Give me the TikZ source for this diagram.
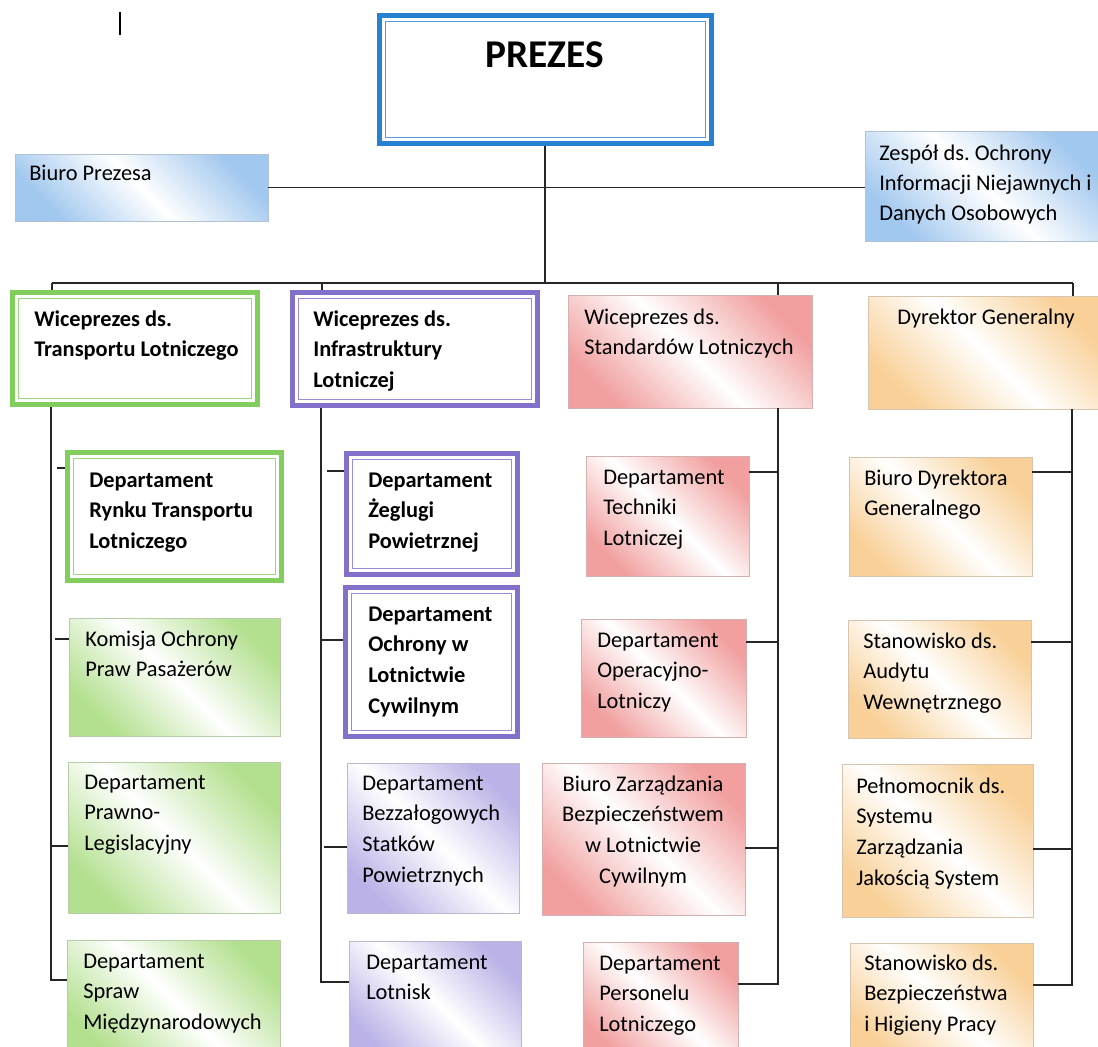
\documentclass[tikz,border=0pt]{standalone}
\usepackage{fontspec}
\setmainfont{Carlito}
\frenchspacing
\usetikzlibrary{fit,calc}
\definecolor{pblue}{RGB}{38,130,208}
\definecolor{gblue}{RGB}{125,178,232}
\definecolor{pgreen}{RGB}{130,206,92}
\definecolor{ggreen}{RGB}{150,212,100}
\definecolor{ppurple}{RGB}{130,112,202}
\definecolor{gpurple}{RGB}{160,150,222}
\definecolor{gred}{RGB}{236,122,122}
\definecolor{gorange}{RGB}{246,190,112}
\tikzset{
  thickbox/.style={draw=#1, line width=3.75pt, fill=white, inner sep=0pt,
    path picture={\draw[#1!80, line width=0.75pt] ([shift={(6,6)}]path picture bounding box.north west) rectangle ([shift={(-6,-6)}]path picture bounding box.south east);}},
  gradbox/.style={draw=#1!50!gray!60, line width=0.5pt, top color=#1!72, bottom color=#1!72, middle color=white, shading angle=-45, inner sep=0pt},
  txt/.style={font=\fontsize{16.8}{23}\selectfont, align=left, inner sep=0pt, anchor=base west},
  btxt/.style={txt, font=\fontsize{16.8}{23}\selectfont\bfseries},
  nl/.style={yshift=-(#1-1)*23pt},
  conn/.style={draw=black!85, line width=1.1pt},
}
\begin{document}
\begin{tikzpicture}[x=0.75pt,y=-0.75pt]
\useasboundingbox (0,0) rectangle (1098,1046);
\fill[white] (0,0) rectangle (1098,1046);
\clip (0,0) rectangle (1098,1046);

% stray mark
\coordinate (m1) at (120,12); \coordinate (m2) at (120,35);
\draw[line width=1.5pt] (m1) -- (m2);

% top level
\node[thickbox=pblue, fit={(379,15) (711,143)}] (prezes) {};
\node[font=\fontsize{29.5}{32}\selectfont\bfseries, anchor=base, inner sep=0pt] (prezesT) at (545,67) {PREZES};

\node[gradbox=gblue, fit={(15,154) (268,221)}] (biuro) {};
\node[txt] (biuroT) at (29,180) {Biuro Prezesa};

\node[gradbox=gblue, fit={(865,131) (1102,241)}] (zespol) {};
\node[txt, font=\fontsize{16.8}{22.5}\selectfont, yshift=-45pt] (zespolT) at (879,160) {Zespół ds. Ochrony\\Informacji Niejawnych i\\Danych Osobowych};

% row 1
\node[thickbox=pgreen, fit={(12.5,292.5) (257.5,404.5)}] (wtl) {};
\node[btxt, nl=2] (wtlT) at (34,326) {Wiceprezes ds.\\Transportu Lotniczego};
\node[thickbox=ppurple, fit={(292.5,292.5) (537.5,405.5)}] (wil) {};
\node[btxt, nl=3] (wilT) at (313,326) {Wiceprezes ds.\\Infrastruktury\\Lotniczej};
\node[gradbox=gred, fit={(568,295) (812,408)}] (wsl) {};
\node[txt, nl=2] (wslT) at (584,324) {Wiceprezes ds.\\Standardów Lotniczych};
\node[gradbox=gorange, fit={(868,296) (1102,409)}] (dg) {};
\node[txt] (dgT) at (897,324) {Dyrektor Generalny};

% green column
\node[thickbox=pgreen, fit={(67.5,452.5) (281.5,580.5)}] (rynek) {};
\node[btxt, nl=3] (rynekT) at (89,487) {Departament\\Rynku Transportu\\Lotniczego};
\node[gradbox=ggreen, fit={(69,618) (280,736)}] (komisja) {};
\node[txt, nl=2] (komisjaT) at (85,646) {Komisja Ochrony\\Praw Pasażerów};
\node[gradbox=ggreen, fit={(68,762) (280,913)}] (prawno) {};
\node[txt, nl=3] (prawnoT) at (84,789) {Departament\\Prawno-\\Legislacyjny};
\node[gradbox=ggreen, fit={(67,940) (280,1060)}] (spraw) {};
\node[txt, nl=3] (sprawT) at (83,968) {Departament\\Spraw\\Międzynarodowych};

% purple column
\node[thickbox=ppurple, fit={(346.5,453.5) (517.5,574.5)}] (zegluga) {};
\node[btxt, nl=3] (zeglugaT) at (368,487) {Departament\\Żeglugi\\Powietrznej};
\node[thickbox=ppurple, fit={(345.5,587.5) (517.5,736.5)}] (ochrona) {};
\node[btxt, nl=4] (ochronaT) at (368,621) {Departament\\Ochrony w\\Lotnictwie\\Cywilnym};
\node[gradbox=gpurple, fit={(347,763) (519,913)}] (bezzal) {};
\node[txt, nl=4] (bezzalT) at (362,790) {Departament\\Bezzałogowych\\Statków\\Powietrznych};
\node[gradbox=gpurple, fit={(349,941) (521,1060)}] (lotnisk) {};
\node[txt, nl=2] (lotniskT) at (366,969) {Departament\\Lotnisk};

% red column
\node[gradbox=gred, fit={(586,456) (749,576)}] (techniki) {};
\node[txt, nl=3] (technikiT) at (603,484) {Departament\\Techniki\\Lotniczej};
\node[gradbox=gred, fit={(581,619) (746,737)}] (operac) {};
\node[txt, nl=3] (operacT) at (597,647) {Departament\\Operacyjno-\\Lotniczy};
\node[gradbox=gred, fit={(542,763) (745,915)}] (bzb) {};
\node[txt, align=center, anchor=base, nl=4] (bzbT) at (643,791) {Biuro Zarządzania\\Bezpieczeństwem\\w Lotnictwie\\Cywilnym};
\node[gradbox=gred, fit={(583,942) (738,1060)}] (personel) {};
\node[txt, nl=3] (personelT) at (599,970) {Departament\\Personelu\\Lotniczego};

% orange column
\node[gradbox=gorange, fit={(849,457) (1032,576)}] (bdg) {};
\node[txt, nl=2] (bdgT) at (864,485) {Biuro Dyrektora\\Generalnego};
\node[gradbox=gorange, fit={(848,620) (1031,738)}] (audyt) {};
\node[txt, nl=3] (audytT) at (863,648) {Stanowisko ds.\\Audytu\\Wewnętrznego};
\node[gradbox=gorange, fit={(842,764) (1033,917)}] (pelnom) {};
\node[txt, nl=4] (pelnomT) at (856,793) {Pełnomocnik ds.\\Systemu\\Zarządzania\\Jakością System};
\node[gradbox=gorange, fit={(850,943) (1033,1060)}] (bhp) {};
\node[txt, nl=3] (bhpT) at (864,970) {Stanowisko ds.\\Bezpieczeństwa\\i Higieny Pracy};

% connectors top
\draw[conn] (biuro.east) -- (biuro.east -| zespol.west);
\coordinate (bus) at (545,283);
\coordinate (busL) at (52,283);
\coordinate (busR) at (1073,283);
\coordinate (d2) at (322,283);
\coordinate (d3) at (778,283);
\draw[conn] (prezes.south) -- (bus);
\draw[conn] (busL) -- (busR);
\draw[conn] (busL) -- (busL |- wtl.north);
\draw[conn] (d2) -- (d2 |- wil.north);
\draw[conn] (d3) -- (d3 |- wsl.north);
\draw[conn] (busR) -- (busR |- dg.north);

% green
\coordinate (gEnd) at (51,980);
\draw[conn] (gEnd |- wtl.south) -- (gEnd) -- (gEnd -| spraw.west);
\coordinate (gP) at (51,846);
\draw[conn] (gP) -- (gP -| prawno.west);
\coordinate (gK) at (55,639);
\draw[conn] (gK) -- (gK -| komisja.west);
\coordinate (gR) at (57,468);
\draw[conn] (gR) -- (gR -| rynek.west);

% purple
\coordinate (pEnd) at (321,982);
\draw[conn] (pEnd |- wil.south) -- (pEnd) -- (pEnd -| lotnisk.west);
\coordinate (pO) at (321,640);
\draw[conn] (pO) -- (pO -| ochrona.west);
\coordinate (pZ) at (327,471);
\draw[conn] (pZ) -- (pZ -| zegluga.west);
\coordinate (pB) at (324,847);
\draw[conn] (pB) -- (pB -| bezzal.west);

% red
\coordinate (rEnd) at (778,984);
\draw[conn] (rEnd |- wsl.south) -- (rEnd) -- (rEnd -| personel.east);
\coordinate (rT) at (778,472);
\draw[conn] (rT) -- (rT -| techniki.east);
\coordinate (rO) at (778,642);
\draw[conn] (rO) -- (rO -| operac.east);
\coordinate (rB) at (778,848);
\draw[conn] (rB) -- (rB -| bzb.east);

% orange
\coordinate (oEnd) at (1072,985);
\draw[conn] (oEnd |- dg.south) -- (oEnd) -- (oEnd -| bhp.east);
\coordinate (oD) at (1072,472);
\draw[conn] (oD) -- (oD -| bdg.east);
\coordinate (oA) at (1072,642);
\draw[conn] (oA) -- (oA -| audyt.east);
\coordinate (oP) at (1072,849);
\draw[conn] (oP) -- (oP -| pelnom.east);
\end{tikzpicture}
\end{document}
